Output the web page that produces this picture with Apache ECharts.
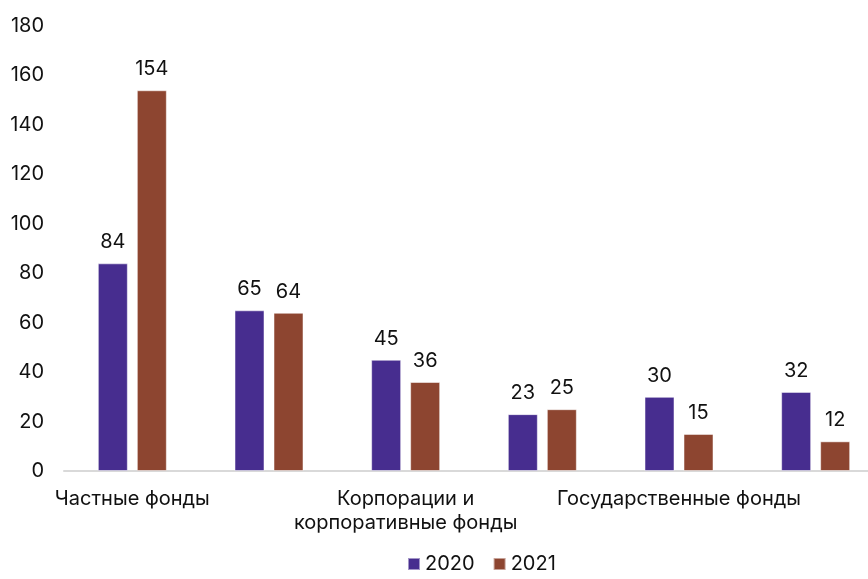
<!DOCTYPE html>
<html>
<head>
    <meta charset="utf-8" />
    <title>Фонды 2020-2021</title>
    <script type="text/javascript" src="https://cdn.jsdelivr.net/npm/echarts@6/dist/echarts.min.js"></script>
    <style>
        html, body { margin: 0; padding: 0; background: #fff; }
    </style>
</head>
<body>
<div id="main" style="width: 868px;height:579px;"></div>
<script type="text/javascript">
    // данные
    var categories = ['Частные фонды', '', 'Корпорации и\nкорпоративные фонды', '', 'Государственные фонды', ''];
    var years = ['2020', '2021'];
    var values2020 = [84, 65, 45, 23, 30, 32];
    var values2021 = [154, 64, 36, 25, 15, 12];
    var yTicks = [0, 20, 40, 60, 80, 100, 120, 140, 160, 180];

    var font = 'Inter, "Noto Sans", sans-serif';
    var myChart = echarts.init(document.getElementById('main'));

    function barSeries(name, data, color) {
        return {
            name: name,
            type: 'bar',
            data: data,
            barWidth: 30,
            barGap: '30%',
            itemStyle: { color: color, borderColor: 'rgba(255,255,255,0.5)', borderWidth: 1 },
            label: {
                show: true,
                position: 'top',
                distance: 11,
                color: '#111',
                fontSize: 20,
                fontFamily: font
            }
        };
    }

    var option = {
        animation: false,
        grid: { left: 64, width: 820, top: 26, bottom: 108, outerBoundsMode: 'none', containLabel: false },
        legend: {
            bottom: 0,
            left: 402,
            data: years,
            itemWidth: 12,
            itemHeight: 12,
            itemGap: 18,
            icon: 'rect',
            textStyle: { fontSize: 20, color: '#111', fontFamily: font }
        },
        xAxis: {
            type: 'category',
            data: categories,
            axisLine: { lineStyle: { color: '#d9d9d9', width: 2 } },
            axisTick: { show: false },
            axisLabel: {
                interval: 0,
                margin: 16,
                fontSize: 20,
                lineHeight: 24,
                color: '#111',
                fontFamily: font
            }
        },
        yAxis: {
            type: 'value',
            min: yTicks[0],
            max: yTicks[yTicks.length - 1],
            interval: yTicks[1] - yTicks[0],
            splitLine: { show: false },
            axisLine: { show: false },
            axisLabel: { margin: 20, fontSize: 20, color: '#111', fontFamily: font }
        },
        series: [
            barSeries(years[0], values2020, '#472D8F'),
            barSeries(years[1], values2021, '#8D4530')
        ]
    };

    myChart.setOption(option);
</script>
</body>
</html>
